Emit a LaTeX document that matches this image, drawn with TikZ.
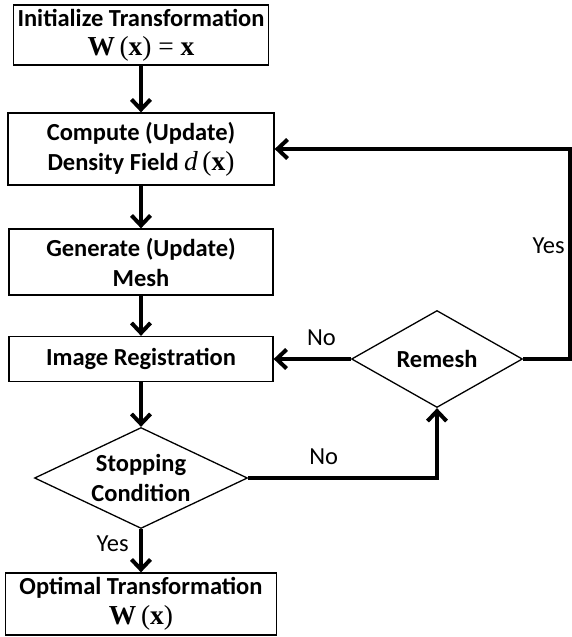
\documentclass[tikz,border=0pt]{standalone}
\usepackage{fontspec}
\setmainfont{Carlito}
\newfontfamily\tnr[Scale=1.12]{Liberation Serif}
\usetikzlibrary{shapes.geometric}
\usetikzlibrary{arrows.meta}
\usetikzlibrary{calc}

\begin{document}
\begin{tikzpicture}[x=1pt, y=-1pt,
    procbox/.style={draw, line width=1.3pt, align=center, inner sep=0pt,
        font=\bfseries\fontsize{24.5}{30}\selectfont},
    decide/.style={draw, diamond, line width=1.3pt, align=center, inner sep=-4pt,
        font=\bfseries\fontsize{24.5}{30}\selectfont},
    flow/.style={line width=4pt, -{Straight Barb[length=10pt,width=19pt]}},
    lbl/.style={font=\fontsize{24.5}{30}\selectfont}]
            \useasboundingbox (0,0) rectangle (571,637);

            % main column of steps
            \node[procbox, minimum width=255, minimum height=60] (init) at (141,35)
                {Initialize Transformation\\[-1pt] {\tnr W\,{\mdseries(}x{\mdseries)} {\mdseries=} x}};
            \node[procbox, minimum width=266, minimum height=72] (density) at (141,149)
                {Compute (Update)\\ Density Field {\tnr\mdseries\itshape d\,}{\tnr\mdseries(}{\tnr x}{\tnr\mdseries)}};
            \node[procbox, minimum width=264, minimum height=66] (mesh) at (141,262)
                {Generate (Update)\\ Mesh};
            \node[procbox, minimum width=264, minimum height=45] (reg) at (141,359)
                {Image Registration};
            \node[decide, aspect=2.1, minimum width=213, minimum height=101] (stop) at (141,478)
                {Stopping\\ Condition};
            \node[procbox, minimum width=271, minimum height=62] (optimal) at (141,604)
                {Optimal Transformation\\ {\tnr W\,{\mdseries(}x{\mdseries)}}};

            % remesh decision
            \node[decide, aspect=1.76, minimum width=171, minimum height=97] (remesh) at (437,359)
                {Remesh};
            \coordinate (rturn) at (570,359);

            % arrows down the column
            \draw[flow] (init) -- (density);
            \draw[flow] (density) -- (mesh);
            \draw[flow] (mesh) -- (reg);
            \draw[flow] (reg) -- (stop);
            \draw[flow] (stop) -- node[lbl, pos=0.33, left, xshift=-7] {Yes} (optimal);

            % loops back
            \draw[flow] (stop.east) -| node[lbl, pos=0.2, above, yshift=8] {No} (remesh.south);
            \draw[flow] (remesh.west) -- node[lbl, pos=0.38, above, yshift=8] {No} (reg.east);
            \draw[flow] (remesh.east) -- (rturn) |- node[lbl, pos=0.27, left] {Yes} (density.east);

        \end{tikzpicture}
\end{document}
